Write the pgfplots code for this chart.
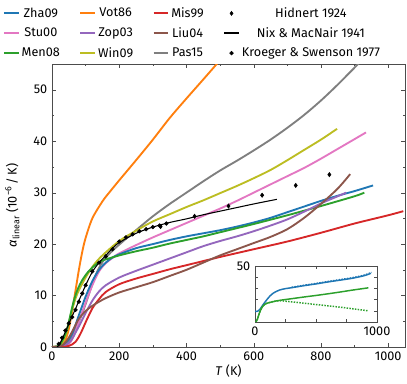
\documentclass[border=0pt]{standalone}
\usepackage{fontspec}
\setmainfont{Fira Sans}
\setsansfont{Fira Sans}
\usepackage{pgfplots}
\pgfplotsset{compat=1.18}
\definecolor{cblue}{HTML}{1F77B4}
\definecolor{corange}{HTML}{FF7F0E}
\definecolor{cgreen}{HTML}{2CA02C}
\definecolor{cred}{HTML}{D62728}
\definecolor{cpurple}{HTML}{9467BD}
\definecolor{cbrown}{HTML}{8C564B}
\definecolor{cpink}{HTML}{E377C2}
\definecolor{cgray}{HTML}{7F7F7F}
\definecolor{colive}{HTML}{BCBD22}
\pgfplotsset{
  curve/.style={line width=1.4pt, no marks, smooth, tension=0.5},
  frame/.style={axis line style={black!70}, tick style={black!70},
    tick align=inside, major tick length=3pt, minor tick length=1.8pt,
    /pgf/number format/assume math mode=true, /pgf/number format/1000 sep={}},
  lineleg/.style={legend image code/.code={\draw[##1] (0pt,0pt) -- (11pt,0pt);}},
  markleg/.style={legend image code/.code={\draw[##1] plot coordinates {(5.5pt,0pt)};}},
}
\begin{document}
\begin{tikzpicture}[font=\fontsize{9.5}{11}\selectfont]
\useasboundingbox (-39pt,-27.75pt) rectangle (266.25pt,260.25pt);
\begin{axis}[frame,
  at={(0,0)}, anchor=south west, scale only axis,
  width=264.75pt, height=212.25pt,
  xmin=0, xmax=1050, ymin=0, ymax=55,
  xtick={0,200,...,1000}, ytick={0,10,...,50},
  minor x tick num=1, minor y tick num=1,
  every axis x label/.style={at={(axis description cs:0.5,-0.085)}, anchor=center},
  every axis y label/.style={at={(axis description cs:-0.112,0.5)}, rotate=90, anchor=center},
  xlabel={\textit{T} (K)},
  ylabel={\textit{α}\textsubscript{linear} (10\textsuperscript{−6}\,/\,K)},
  legend columns=4,
  legend style={at={(0,1)}, anchor=south west, xshift=-37pt, yshift=2pt,
    draw=none, fill=none, inner sep=0pt, row sep=3pt,
    /tikz/every even column/.append style={column sep=13pt},
    nodes={inner sep=1.5pt}},
]
% legend, row by row
\addlegendimage{lineleg, cblue, line width=1.6pt}\addlegendentry{Zha09}
\addlegendimage{lineleg, corange, line width=1.6pt}\addlegendentry{Vot86}
\addlegendimage{lineleg, cred, line width=1.6pt}\addlegendentry{Mis99}
\addlegendimage{markleg, only marks, mark=diamond*, mark size=1.5pt, black}\addlegendentry{Hidnert 1924}
\addlegendimage{lineleg, cpink, line width=1.6pt}\addlegendentry{Stu00}
\addlegendimage{lineleg, cpurple, line width=1.6pt}\addlegendentry{Zop03}
\addlegendimage{lineleg, cbrown, line width=1.6pt}\addlegendentry{Liu04}
\addlegendimage{lineleg, black, line width=1.6pt}\addlegendentry{Nix \& MacNair 1941}
\addlegendimage{lineleg, cgreen, line width=1.6pt}\addlegendentry{Men08}
\addlegendimage{lineleg, colive, line width=1.6pt}\addlegendentry{Win09}
\addlegendimage{lineleg, cgray, line width=1.6pt}\addlegendentry{Pas15}
\addlegendimage{markleg, only marks, mark=*, mark size=1.4pt, black}\addlegendentry{Kroeger \& Swenson 1977}

% Vot86
\addplot[curve, corange, forget plot] coordinates {
(0,0)(20,0.1)(30,0.4)(40,1.3)(50,3.5)(60,7)(70,11)(80,15)(90,18.5)(100,21.2)(120,25)(150,28.3)(170,30)(200,32.4)(250,36.3)(300,40.3)(350,44.5)(400,48.3)(450,52)(490,55)(500,55.8)};
% Pas15
\addplot[curve, cgray, forget plot] coordinates {
(0,0)(30,0.2)(50,1.2)(70,3.5)(90,6.5)(110,10.3)(130,14)(150,16.5)(175,18.4)(200,19.9)(250,22.7)(300,25.4)(350,27.8)(400,30)(450,32.2)(500,34.3)(550,36.2)(600,38.2)(650,40.3)(700,42.6)(750,45.1)(800,47.9)(850,51)(900,54.3)(920,55.6)};
% Win09
\addplot[curve, colive, forget plot] coordinates {
(0,0)(20,0.2)(30,0.8)(40,2.2)(50,4.6)(60,7.3)(75,10.3)(100,13.5)(125,16)(150,17.8)(200,20.6)(250,22.6)(300,24.4)(350,25.8)(400,27.2)(450,28.5)(500,29.9)(550,31.3)(600,32.8)(650,34.4)(700,36.3)(750,38.3)(800,40.3)(848,42.4)};
% Stu00
\addplot[curve, cpink, forget plot] coordinates {
(0,0)(30,0.1)(50,0.6)(60,1.5)(70,3)(80,5)(100,8.6)(120,12)(140,14.7)(160,16.3)(180,17.3)(200,18.2)(250,19.8)(300,21.3)(350,22.7)(400,24.1)(450,25.5)(500,26.9)(550,28.4)(600,30)(650,31.6)(700,33.2)(750,34.8)(800,36.6)(850,38.5)(900,40.4)(934,41.7)};
% Zha09
\addplot[curve, cblue, forget plot] coordinates {
(0,0)(20,0.05)(30,0.3)(40,0.8)(50,1.5)(60,2.6)(70,4.3)(80,6.2)(90,8)(100,9.8)(120,12.8)(140,15)(160,16.4)(180,17.4)(200,18)(250,19.2)(300,20)(350,20.8)(400,21.5)(450,22.1)(500,22.7)(550,23.4)(600,24.2)(650,25.1)(700,26.2)(750,27.3)(800,28.4)(850,29.4)(900,30.3)(955,31.4)};
% Men08
\addplot[curve, cgreen, forget plot] coordinates {
(0,0)(15,0.1)(25,0.6)(35,1.8)(45,3.5)(55,6.3)(65,9)(75,11)(90,13)(110,14.8)(130,16)(150,16.8)(200,17.8)(250,18.6)(300,19.3)(350,20.1)(400,20.8)(450,21.5)(500,22.3)(600,23.9)(700,25.6)(800,27.4)(900,29.3)(929,30)};
% Zop03
\addplot[curve, cpurple, forget plot] coordinates {
(0,0)(30,0.1)(50,0.8)(60,1.6)(70,2.8)(80,4)(90,5.3)(100,6.6)(120,9)(140,10.8)(160,12)(200,13.5)(250,14.8)(300,16)(350,17.2)(400,18.4)(450,19.6)(500,20.6)(550,21.5)(600,22.5)(650,23.6)(700,24.8)(750,26.3)(800,27.9)(850,29.3)(875,30)};
% Mis99
\addplot[curve, cred, forget plot] coordinates {
(0,0)(40,0.05)(60,0.5)(70,1)(80,2)(90,3.3)(100,4.8)(120,7.5)(140,9.3)(160,10.7)(200,12.2)(250,13.3)(300,14.2)(350,15.1)(400,15.9)(450,16.7)(500,17.5)(600,19)(700,20.5)(800,22.2)(900,24)(1000,25.6)(1045,26.4)};
% Liu04
\addplot[curve, cbrown, forget plot] coordinates {
(0,0)(20,0.05)(30,0.3)(40,0.9)(50,1.8)(60,3)(70,4.3)(80,5.5)(100,7)(120,8)(140,8.8)(160,9.5)(200,10.6)(250,11.6)(300,12.6)(350,13.8)(400,15)(450,16.4)(500,17.8)(550,19)(600,20.2)(650,21.4)(700,22.9)(750,25.1)(800,27.8)(850,30.8)(887,33.6)};
% Nix & MacNair 1941
\addplot[black, line width=0.8pt, no marks, smooth, forget plot] coordinates {
(15,0)(20,0.3)(30,1.5)(40,3)(50,4.5)(60,6)(70,7.4)(80,9)(90,10.5)(100,12)(120,14.6)(140,16.4)(160,17.8)(180,19.2)(200,20.3)(250,22.1)(300,23.3)(350,24.2)(400,24.9)(450,25.7)(500,26.4)(550,27.1)(600,27.8)(669,28.7)};
% Kroeger & Swenson 1977
\addplot[only marks, mark=*, mark size=1.4pt, black, forget plot] coordinates {
(20,0.6)(30,1.8)(40,3.2)(50,4.6)(60,5.8)(70,7.2)(80,8.8)(90,10.4)(100,12)(120,14.7)(140,16.4)(160,17.6)(180,19)(200,20.5)(220,21.3)(240,21.9)(260,22.5)(280,22.9)(300,23.3)(320,23.6)(340,24)};
% Hidnert 1924
\addplot[only marks, mark=diamond*, mark size=1.6pt, black, forget plot] coordinates {
(323,23.4)(424,25.4)(525,27.4)(625,29.5)(725,31.4)(825,33.5)};
\end{axis}

\begin{axis}[frame,
  at={(152.25pt,18.75pt)}, anchor=south west, scale only axis,
  width=91.5pt, height=42pt,
  xmin=0, xmax=1000, ymin=0, ymax=50,
  xtick={0,250,...,1000}, ytick={0,10,...,50},
  xticklabels={0,,,,1000}, yticklabels={,,,,,50},
  axis background/.style={fill=white},
  major tick length=2.5pt,
]
\addplot[curve, line width=1.1pt, cblue] coordinates {
(0,9.5)(20,9.6)(30,10.2)(45,12)(60,14.5)(80,17.5)(100,20.3)(125,23.5)(150,25.8)(200,28.5)(250,29.8)(300,30.6)(400,32.4)(500,34)(600,35.8)(700,37.4)(800,39.1)(900,41.5)(950,43.5)};
\addplot[line width=1.1pt, cblue, densely dotted, no marks, smooth] coordinates {
(300,31)(400,32.8)(500,34.4)(600,36.2)(700,37.9)(800,39.6)(900,42)(955,44.3)};
\addplot[curve, line width=1.1pt, cgreen] coordinates {
(0,0)(10,0.3)(20,2.5)(30,6)(45,10.5)(60,13.5)(80,15.8)(100,16.8)(150,18.2)(200,19.3)(300,20.8)(400,22.3)(500,23.7)(600,25.2)(700,26.8)(800,28.5)(929,30.5)};
\addplot[line width=1.1pt, cgreen, densely dotted, no marks, smooth] coordinates {
(0,0)(10,0.3)(20,2.5)(30,6)(45,10.5)(60,13.5)(80,15.8)(100,16.8)(150,18.2)(200,19)(300,18)(400,16.8)(500,15.6)(600,14.4)(700,13.2)(800,11.8)(929,10)};
\end{axis}
\end{tikzpicture}
\end{document}
